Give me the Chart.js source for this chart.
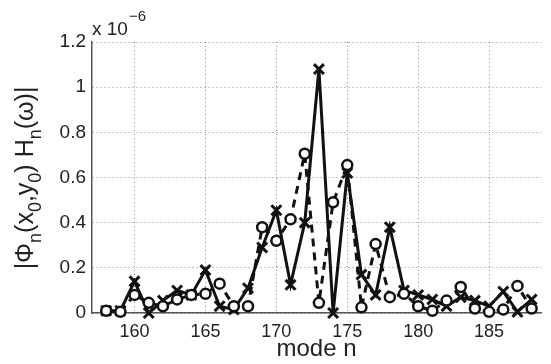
<!DOCTYPE html>
<html>
<head>
<meta charset="utf-8">
<script src="https://cdn.jsdelivr.net/npm/chart.js@4.4.1/dist/chart.umd.min.js"></script>
<style>
  html, body { margin: 0; padding: 0; background: #fff; overflow: hidden; }
  #wrap { width: 551px; height: 364px; position: relative; }
</style>
</head>
<body>
<div id="wrap"><canvas id="chart"></canvas></div>
<script>
// mode numbers and the two curves (values in units of 1e-6)
const modes = [158, 159, 160, 161, 162, 163, 164, 165, 166, 167, 168, 169, 170, 171, 172, 173,
  174, 175, 176, 177, 178, 179, 180, 181, 182, 183, 184, 185, 186, 187, 188];
const crossValues = [0.01, 0.01, 0.14, 0.0, 0.055, 0.10, 0.08, 0.19, 0.03, 0.015, 0.11, 0.29,
  0.455, 0.125, 0.40, 1.08, 0.0, 0.62, 0.17, 0.08, 0.38, 0.10, 0.08, 0.06, 0.03, 0.07,
  0.055, 0.03, 0.095, 0.005, 0.06];
const circleValues = [0.01, 0.005, 0.08, 0.045, 0.03, 0.06, 0.08, 0.085, 0.13, 0.03, 0.03, 0.38,
  0.32, 0.415, 0.705, 0.045, 0.49, 0.655, 0.025, 0.305, 0.07, 0.085, 0.03, 0.01, 0.055,
  0.115, 0.02, 0.005, 0.015, 0.12, 0.02];
const xTicks = [160, 165, 170, 175, 180, 185];
const yTicks = [0, 0.2, 0.4, 0.6, 0.8, 1, 1.2];

const FONT = "'Liberation Sans', Arial, Helvetica, sans-serif";

function pts(vals) {
  return modes.map((m, i) => ({ x: m, y: vals[i] }));
}

// text with subscripts: parts = [[text, isSub], ...]
function drawParts(ctx, parts, x, y, size, subSize) {
  let cx = x;
  parts.forEach(([t, sub]) => {
    ctx.font = `${sub ? subSize : size}px ${FONT}`;
    ctx.fillText(t, cx, sub ? y + size * 0.3 : y);
    cx += ctx.measureText(t).width;
  });
  return cx - x;
}

function partsWidth(ctx, parts, size, subSize) {
  let w = 0;
  parts.forEach(([t, sub]) => {
    ctx.font = `${sub ? subSize : size}px ${FONT}`;
    w += ctx.measureText(t).width;
  });
  return w;
}

const labels = {
  id: "labels",
  afterDraw(chart) {
    const ctx = chart.ctx;
    const area = chart.chartArea;
    ctx.save();
    ctx.fillStyle = "#222";
    ctx.textBaseline = "alphabetic";
    ctx.textAlign = "left";
    // exponent above axis
    ctx.font = `19px ${FONT}`;
    ctx.fillText("x 10", area.left, area.top - 7);
    const w = ctx.measureText("x 10").width;
    ctx.font = `15px ${FONT}`;
    ctx.fillText("\u22126", area.left + w + 1, area.top - 21);

    // y axis title
    const parts = [["|\u03a6", false], ["n", true], ["(x", false], ["0", true], [",y", false],
      ["0", true], [") H", false], ["n", true], ["(\u03c9)|", false]];
    const size = 25, sub = 18;
    const tw = partsWidth(ctx, parts, size, sub);
    ctx.translate(33, 178);
    ctx.rotate(-Math.PI / 2);
    drawParts(ctx, parts, -tw / 2, 0, size, sub);
    ctx.restore();
  }
};

new Chart(document.getElementById("chart"), {
  type: "line",
  data: {
    datasets: [
      {
        label: "o",
        data: pts(circleValues),
        borderColor: "#111",
        borderWidth: 3,
        borderDash: [8, 6],
        pointStyle: "circle",
        pointRadius: 5,
        pointBorderWidth: 2.5,
        pointBackgroundColor: "#fff",
        pointBorderColor: "#111",
        tension: 0,
        clip: false
      },
      {
        label: "x",
        data: pts(crossValues),
        borderColor: "#111",
        borderWidth: 3,
        pointStyle: "crossRot",
        pointRadius: 7,
        pointBorderWidth: 3,
        pointBorderColor: "#111",
        tension: 0,
        clip: false
      }
    ]
  },
  options: {
    responsive: true,
    maintainAspectRatio: false,
    animation: false,
    layout: { padding: { top: 42, right: 0, left: 0, bottom: 0 } },
    plugins: { legend: { display: false }, tooltip: { enabled: false } },
    scales: {
      x: {
        type: "linear",
        min: 157,
        max: 188.66,
        afterBuildTicks: (s) => { s.ticks = xTicks.map((v) => ({ value: v })); },
        afterFit: (s) => { s.height = 51; },
        grid: { color: "#888", lineWidth: 1, drawTicks: false },
        border: { display: true, color: "#555", width: 1.5, dash: [1, 3] },
        ticks: { color: "#222", font: { family: FONT, size: 18 }, padding: 8, maxRotation: 0 },
        title: { display: true, text: "mode n", color: "#222", font: { family: FONT, size: 24 }, padding: { top: 0, bottom: 0 } }
      },
      y: {
        min: 0,
        max: 1.2,
        afterBuildTicks: (s) => { s.ticks = yTicks.map((v) => ({ value: v })); },
        afterFit: (s) => { s.width = 92; },
        grid: { color: "#888", lineWidth: 1, drawTicks: false },
        border: { display: true, color: "#555", width: 1.5, dash: [1, 3] },
        ticks: { color: "#222", font: { family: FONT, size: 19 }, padding: 6, callback: (v) => String(Math.round(v * 10) / 10) }
      }
    }
  },
  plugins: [labels]
});
</script>
</body>
</html>
